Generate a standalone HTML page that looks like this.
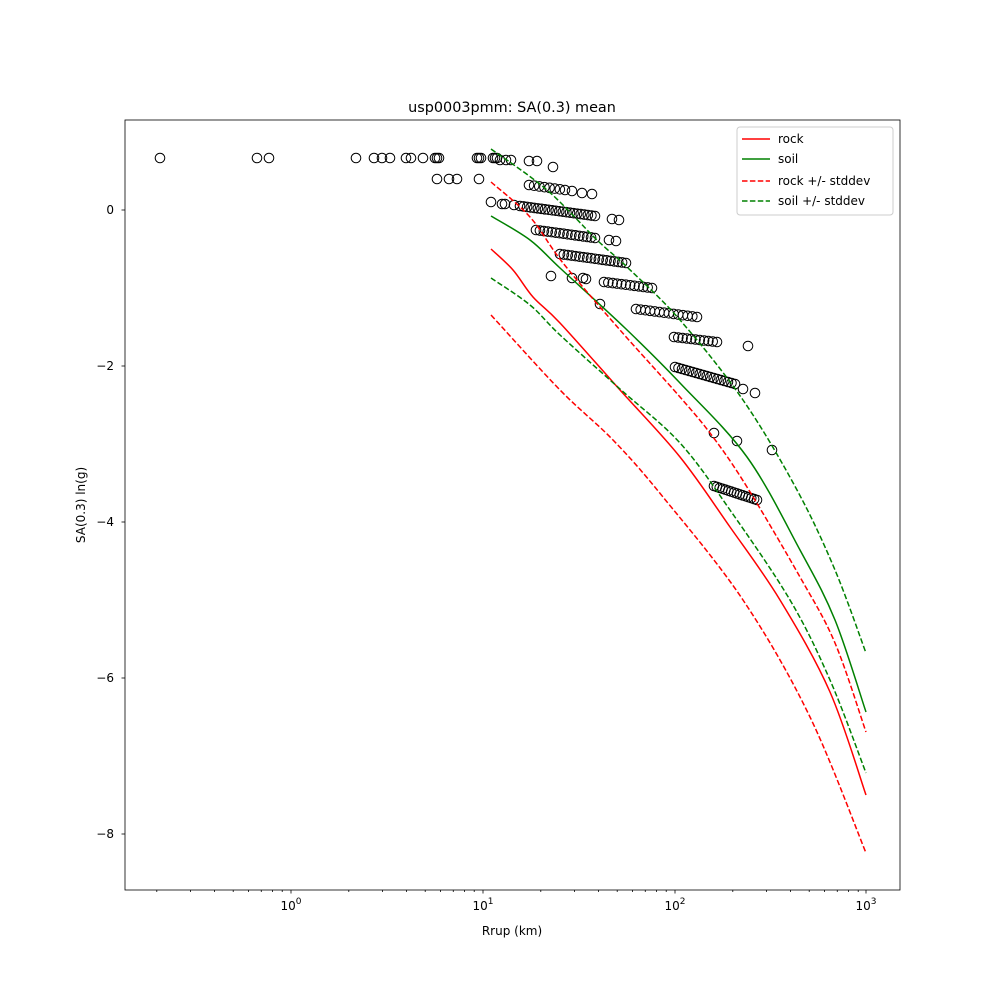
<!DOCTYPE html>
<html><head><meta charset="utf-8"><style>
body{margin:0;background:#fff}
svg{display:block;font-family:"DejaVu Sans","Liberation Sans",sans-serif}
</style></head><body>
<svg id="s" width="1000" height="1000" xmlns="http://www.w3.org/2000/svg">
<rect width="1000" height="1000" fill="#fff"/>
<g id="pts" fill="none" stroke="#000" stroke-width="1"></g>
<g id="lines" fill="none" stroke-width="1.5"></g>
<rect x="125" y="120" width="775" height="770" fill="none" stroke="#000" stroke-width="0.8"/>
<g id="ticks" stroke="#000" stroke-width="0.8"></g>
<g font-size="12" fill="#000">
<text x="291" y="910" text-anchor="middle">10<tspan dy="-6" font-size="9">0</tspan></text>
<text x="483" y="910" text-anchor="middle">10<tspan dy="-6" font-size="9">1</tspan></text>
<text x="675" y="910" text-anchor="middle">10<tspan dy="-6" font-size="9">2</tspan></text>
<text x="866" y="910" text-anchor="middle">10<tspan dy="-6" font-size="9">3</tspan></text>
<text x="114" y="214" text-anchor="end">0</text>
<text x="114" y="370" text-anchor="end">−2</text>
<text x="114" y="526" text-anchor="end">−4</text>
<text x="114" y="682" text-anchor="end">−6</text>
<text x="114" y="838" text-anchor="end">−8</text>
<text x="512" y="935" text-anchor="middle">Rrup (km)</text>
<text transform="translate(85,505) rotate(-90)" text-anchor="middle">SA(0.3) ln(g)</text>
<text x="512" y="112" text-anchor="middle" font-size="14.4">usp0003pmm: SA(0.3) mean</text>
</g>
<rect x="737" y="127" width="156" height="88" rx="3" fill="#fff" fill-opacity="0.8" stroke="#ccc"/>
<g stroke-width="1.5">
<line x1="742" y1="139" x2="770" y2="139" stroke="red"/>
<line x1="742" y1="159" x2="770" y2="159" stroke="green"/>
<line x1="742" y1="181" x2="770" y2="181" stroke="red" stroke-dasharray="5.5,2.4"/>
<line x1="742" y1="201" x2="770" y2="201" stroke="green" stroke-dasharray="5.5,2.4"/>
</g>
<g font-size="12" fill="#000">
<text x="778" y="143">rock</text>
<text x="778" y="163">soil</text>
<text x="778" y="185">rock +/- stddev</text>
<text x="778" y="205">soil +/- stddev</text>
</g>
</svg>
<script>
const NS="http://www.w3.org/2000/svg";
function el(p,t,a){const e=document.createElementNS(NS,t);for(const k in a)e.setAttribute(k,a[k]);document.getElementById(p).appendChild(e);}
[291,483,675,866].forEach(x=>el("ticks","line",{x1:x,y1:890,x2:x,y2:893.5}));
for(let d=-1;d<3;d++)for(let k=2;k<10;k++){const x=291+192*(d+Math.log10(k));if(x>125&&x<900)el("ticks","line",{x1:x,y1:890,x2:x,y2:892});}
[210,366,522,678,834].forEach(y=>el("ticks","line",{x1:121.5,y1:y,x2:125,y2:y}));
const rock=[[491,249],[513,270],[533,297],[560,323],[620,390],[680,457],[730,527],[780,600],[830,692],[866,795]];
const soil=[[491,216],[530,240],[560,268],[625,328],[680,383],[747,457],[800,550],[835,620],[866,712]];
const ru=[[491,182],[530,217],[563,263],[620,330],[680,397],[713,437],[747,487],[800,577],[835,643],[866,732]];
const gl=[[491,278],[530,305],[560,335],[620,389],[680,443],[730,510],[790,600],[830,680],[866,773]];
const rl=[[491,315],[560,390],[613,440],[663,497],[743,600],[810,717],[866,853]];
const gu=[[491,149],[547,190],[597,240],[627,267],[680,320],[743,400],[797,490],[835,570],[866,653]];
function path(a){let d="M"+a[0][0]+","+a[0][1];for(let i=0;i<a.length-1;i++){const p0=a[Math.max(i-1,0)],p1=a[i],p2=a[i+1],p3=a[Math.min(i+2,a.length-1)];const c1=[(p1[0]+(p2[0]-p0[0])/6).toFixed(1),(p1[1]+(p2[1]-p0[1])/6).toFixed(1)],c2=[(p2[0]-(p3[0]-p1[0])/6).toFixed(1),(p2[1]-(p3[1]-p1[1])/6).toFixed(1)];d+=" C"+c1+" "+c2+" "+p2;}return d;}
function pl(a,c,dash){const o={d:path(a),stroke:c};if(dash)o["stroke-dasharray"]="5.5,2.4";el("lines","path",o);}
pl(rock,"red");pl(soil,"green");pl(ru,"red",1);pl(rl,"red",1);pl(gu,"green",1);pl(gl,"green",1);
function c(x,y){el("pts","circle",{cx:x,cy:y,r:4.8});}
function row(x0,x1,y0,y1,n){for(let i=0;i<n;i++){const t=n>1?i/(n-1):0;c(x0+(x1-x0)*t,y0+(y1-y0)*t);}}
[160,257,269,356,374,382,390,406,411,423,435,437,439,477,479,481,493,495,497].forEach(x=>c(x,158));
[500,506,511].forEach(x=>c(x,160));c(529,161);c(537,161);c(553,167);
[437,449,457,479].forEach(x=>c(x,179));
row(529,565,185,190,8);c(572,191);c(582,193);c(592,194);
c(491,202);c(502,204);c(505,204);c(514,205);
row(520,595,206,216,22);c(612,219);c(619,220);
row(536,595,230,238,16);c(609,240);c(616,241);
row(560,626,254,263,18);c(551,276);c(572,278);c(583,278);c(586,279);
row(604,652,282,288,12);c(600,304);
row(636,697,309,317,14);
row(674,717,337,342,11);c(748,346);
row(675,735,367,384,18);c(743,389);c(755,393);
c(714,433);c(737,441);c(772,450);
row(714,757,486,500,16);
</script>
</body></html>
